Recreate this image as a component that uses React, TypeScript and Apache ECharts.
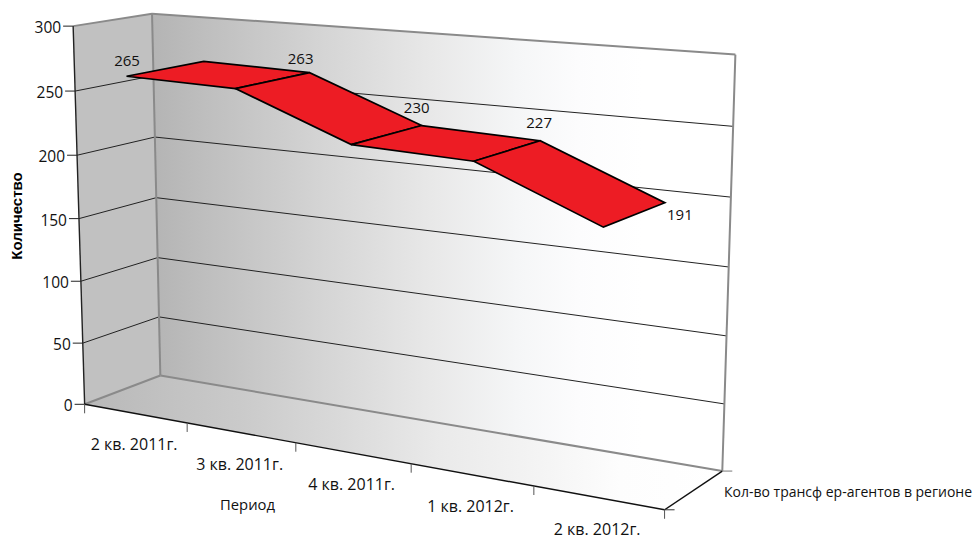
import React, { useEffect, useRef } from "react";
import * as echarts from "echarts";

const categories = ["2 кв. 2011г.", "3 кв. 2011г.", "4 кв. 2011г.", "1 кв. 2012г.", "2 кв. 2012г."];
const seriesValues = [265, 263, 230, 227, 191];
const yTicks = [0, 50, 100, 150, 200, 250, 300];
const categoryBoundaries = [0, 1, 2, 3, 4, 5];
const seriesName = "Кол-во трансф ер-агентов в регионе";
const xTitle = "Период";
const yTitle = "Количество";

const GRID = { left: 0, top: 0, width: 900, height: 300 };
const FONT = '"Open Sans", sans-serif';
const TEXT = "#111111";
const EDGE = "#8a8a8a";
const LABEL_OFFSETS = [
  [0.5, -16, 0],
  [-9, -15, 1],
  [-5, -18.5, 1],
  [-1, -19, 1],
  [15, 11, 1],
];

// Camera calibration: [along categories, depth, height] -> screen position
const calibration: number[][] = [
  [0, 0, 0, 85, 404], [0, 1, 0, 160, 375], [1, 1, 0, 722, 470], [1, 0, 0, 664, 509],
  [0, 0, 1, 73, 26], [0, 1, 1, 152, 14], [1, 1, 1, 735, 54],
  [0, 0, 1 / 6, 83, 343], [0, 0, 2 / 6, 81, 281], [0, 0, 3 / 6, 79, 218], [0, 0, 4 / 6, 77, 155], [0, 0, 5 / 6, 75, 91],
  [0, 1, 1 / 6, 159, 317], [0, 1, 2 / 6, 157, 258], [0, 1, 3 / 6, 156, 198], [0, 1, 4 / 6, 155, 137], [0, 1, 5 / 6, 154, 76],
  [1, 1, 1 / 6, 725, 404], [1, 1, 2 / 6, 727, 336], [1, 1, 3 / 6, 729, 267], [1, 1, 4 / 6, 731, 197], [1, 1, 5 / 6, 733, 127],
  [0.2, 0, 0, 187, 423], [0.4, 0, 0, 296, 443], [0.6, 0, 0, 412, 465], [0.8, 0, 0, 533, 487],
];

function solveCamera(): number[] {
  const n = 11;
  const A = Array.from({ length: n }, () => new Array(n + 1).fill(0));
  const add = (row: number[], rhs: number) => {
    for (let i = 0; i < n; i++) {
      for (let j = 0; j < n; j++) A[i][j] += row[i] * row[j];
      A[i][n] += row[i] * rhs;
    }
  };
  for (const [t, d, h, px, py] of calibration) {
    const x = px / 1000;
    const y = py / 1000;
    add([t, d, h, 1, 0, 0, 0, 0, -x * t, -x * d, -x * h], x);
    add([0, 0, 0, 0, t, d, h, 1, -y * t, -y * d, -y * h], y);
  }
  for (let c = 0; c < n; c++) {
    let piv = c;
    for (let r = c + 1; r < n; r++) if (Math.abs(A[r][c]) > Math.abs(A[piv][c])) piv = r;
    [A[c], A[piv]] = [A[piv], A[c]];
    for (let r = 0; r < n; r++) {
      if (r === c) continue;
      const f = A[r][c] / A[c][c];
      for (let k = c; k <= n; k++) A[r][k] -= f * A[c][k];
    }
  }
  return A.map((row, i) => row[n] / row[i]);
}
const cam = solveCamera();
function project(t: number, d: number, h: number): number[] {
  const w = cam[8] * t + cam[9] * d + cam[10] * h + 1;
  return [
    (1000 * (cam[0] * t + cam[1] * d + cam[2] * h + cam[3])) / w,
    (1000 * (cam[4] * t + cam[5] * d + cam[6] * h + cam[7])) / w,
  ];
}
// Turn a position given by the hidden axes into the 3D frame
function axesToT(api: any, cat: number) {
  return (api.coord([cat, 0])[0] - GRID.left) / GRID.width;
}
function axesToH(api: any, value: number) {
  return (GRID.top + GRID.height - api.coord([0, value])[1]) / GRID.height;
}
function boundaryT(i: number) {
  return i / categories.length;
}

const line = (a: number[], b: number[], stroke: string, lineWidth: number) => ({
  type: "line",
  shape: { x1: a[0], y1: a[1], x2: b[0], y2: b[1] },
  style: { stroke, lineWidth, fill: "none" },
  silent: true,
});
const text = (x: number, y: number, s: string, align = "center", extra: any = {}) => ({
  type: "text",
  x,
  y,
  style: {
    text: s,
    x: 0,
    y: 0,
    fill: TEXT,
    font: `14px ${FONT}`,
    align,
    verticalAlign: "middle",
    lineHeight: 12,
    ...extra,
  },
  silent: true,
});
const poly = (points: number[][], fill: any, stroke = "none", lineWidth = 0) => ({
  type: "polygon",
  shape: { points },
  style: { fill, stroke, lineWidth, lineJoin: "miter" },
  silent: true,
});
const grad = (stops: [number, string][]) =>
  new echarts.graphic.LinearGradient(0, 0, 1, 0, stops.map(([offset, color]) => ({ offset, color })));

export default function App() {
  const ref = useRef<HTMLDivElement>(null);
  useEffect(() => {
    const chart = echarts.init(ref.current!, undefined, { renderer: "svg" });
    const walls = () => {
      const FL0 = project(0, 0, 0), BL0 = project(0, 1, 0), BR0 = project(1, 1, 0), FR0 = project(1, 0, 0);
      const FL1 = project(0, 0, 1), BL1 = project(0, 1, 1), BR1 = project(1, 1, 1);
      return {
        type: "group",
        children: [
          poly([FL0, BL0, BL1, FL1], "#c1c1c1"),
          poly([BL0, BR0, BR1, BL1], grad([[0, "#b4b4b4"], [0.305, "#d6d6d6"], [0.477, "#e8e8e8"], [0.626, "#f5f6f7"], [0.73, "#fcfcfd"], [0.84, "#ffffff"], [1, "#ffffff"]])),
          poly([FL0, BL0, BR0, FR0], grad([[0, "#b8b8b8"], [0.243, "#cacaca"], [0.385, "#d8d8d8"], [0.557, "#eaeaea"], [0.714, "#f4f4f4"], [0.84, "#fdfdfd"], [1, "#ffffff"]])),
        ],
      };
    };
    const frame = () => {
      const FL0 = project(0, 0, 0), BL0 = project(0, 1, 0), BR0 = project(1, 1, 0), FR0 = project(1, 0, 0);
      const FL1 = project(0, 0, 1), BL1 = project(0, 1, 1), BR1 = project(1, 1, 1);
      return {
        type: "group",
        children: [
          line(FL1, BL1, EDGE, 2),
          line(BL1, BR1, EDGE, 2),
          line(BL1, BL0, EDGE, 2),
          line(BR1, BR0, EDGE, 2),
          line(FL0, BL0, EDGE, 2),
          line(BL0, BR0, EDGE, 2),
          line(FL1, FL0, "#222", 1.4),
          line(FL0, FR0, "#111", 1.4),
          line(FR0, BR0, "#111", 1.4),
          line(FR0, [FR0[0] + 10, FR0[1]], "#333", 1),
          line(BR0, [BR0[0] + 10, BR0[1]], "#777", 1),
          text(724, 491, seriesName, "left", { font: `14px ${FONT}` }),
          text(247.5, 504, xTitle, "center", { font: `14.8px ${FONT}` }),
          {
            ...text(0, 0, yTitle, "center", { font: `bold 15px "Liberation Sans", Arial, sans-serif`, fill: "#000" }),
            x: 16.5,
            y: 216,
            rotation: Math.PI / 2,
          },
        ],
      };
    };
    chart.setOption({
      animation: false,
      backgroundColor: "#ffffff",
      grid: { ...GRID, containLabel: false },
      xAxis: { type: "category", data: categories, show: false },
      yAxis: { type: "value", min: 0, max: 300, interval: 50, show: false },
      series: [
        {
          type: "custom",
          name: "walls",
          coordinateSystem: "cartesian2d",
          silent: true,
          z: 1,
          data: [[0, 0]],
          renderItem: walls,
        },
        {
          type: "custom",
          name: "yTicks",
          coordinateSystem: "cartesian2d",
          silent: true,
          z: 2,
          data: yTicks.map((v) => [0, v]),
          renderItem: (_: any, api: any) => {
            const h = axesToH(api, api.value(1));
            const a = project(0, 0, h), b = project(0, 1, h), c = project(1, 1, h);
            const children: any[] = [
              line([a[0] - 10, a[1]], a, "#222", 1),
              text(a[0] - 12, a[1] + 1, String(api.value(1)), "right", { font: `15.5px ${FONT}` }),
            ];
            if (h > 0 && h < 1) {
              children.push(line(a, b, "#222", 1), line(b, c, "#222", 1));
            }
            return { type: "group", children };
          },
        },
        {
          type: "custom",
          name: "frame",
          coordinateSystem: "cartesian2d",
          silent: true,
          z: 3,
          data: [[0, 0]],
          renderItem: frame,
        },
        {
          type: "custom",
          name: "xTicks",
          coordinateSystem: "cartesian2d",
          silent: true,
          z: 4,
          data: categoryBoundaries.map((i) => [i]),
          encode: { x: 0 },
          renderItem: (_: any, api: any) => {
            const a = project(boundaryT(api.value(0)), 0, 0);
            return line(a, [a[0], a[1] + 9], "#555", 1);
          },
        },
        {
          type: "custom",
          name: "xLabels",
          coordinateSystem: "cartesian2d",
          silent: true,
          z: 4,
          data: categories.map((_, i) => [i, 0]),
          renderItem: (_: any, api: any) => {
            const a = project(axesToT(api, api.value(0)), 0, 0);
            return text(a[0] - 1, a[1] + 31, categories[api.value(0)], "center", { font: `16px ${FONT}` });
          },
        },
        {
          type: "custom",
          name: seriesName,
          coordinateSystem: "cartesian2d",
          z: 5,
          silent: true,
          data: seriesValues.map((v, i) => [i, v]),
          renderItem: (params: any, api: any) => {
            const i = api.value(0);
            const p = (cat: number, val: number, d: number) => project(axesToT(api, cat), d, axesToH(api, val));
            const children: any[] = [];
            if (i < seriesValues.length - 1) {
              const v0 = api.value(1), v1 = seriesValues[i + 1];
              children.push(poly([p(i, v0, 0), p(i, v0, 1), p(i + 1, v1, 1), p(i + 1, v1, 0)], "#ed1c24", "#000", 1.7));
            }
            return { type: "group", children };
          },
        },
        {
          type: "custom",
          name: "values",
          coordinateSystem: "cartesian2d",
          z: 6,
          silent: true,
          data: seriesValues.map((v, i) => [i, v]),
          renderItem: (params: any, api: any) => {
            const i = api.value(0);
            const [dx, dy, d] = LABEL_OFFSETS[i];
            const a = project(axesToT(api, i), d, axesToH(api, api.value(1)));
            return text(a[0] + dx, a[1] + dy, String(api.value(1)), "center", { font: `15px ${FONT}` });
          },
        },
      ],
    } as any);
    return () => chart.dispose();
  }, []);
  return <div ref={ref} style={{ position: "fixed", left: 0, top: 0, width: 974, height: 536 }} />;
}
